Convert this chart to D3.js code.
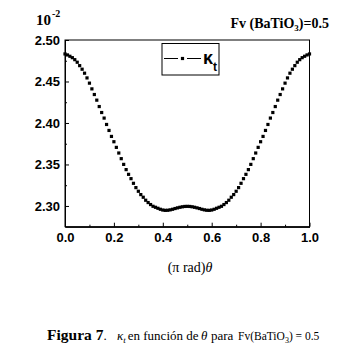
<!DOCTYPE html>
<html>
<head>
<meta charset="utf-8">
<script src="https://cdn.jsdelivr.net/npm/d3@7"></script>
<style>
  body { margin: 0; background: #fff; }
  svg { display: block; }
  .axis text { font-family: "Liberation Sans", Arial, sans-serif; font-weight: bold; font-size: 13px; fill: #000; }
  .axis line, .axis path { stroke: #000; stroke-width: 1px; }
</style>
</head>
<body>
<div id="chart"></div>
<script>
// theta (pi rad) and kappa_t values (x 10^-2)
const theta = d3.range(0, 101).map(i => i / 100)
const kappaT = [
  2.4832, 2.4820, 2.4804, 2.4787, 2.4763, 2.4732, 2.4691, 2.4648, 2.4600, 2.4543,
  2.4480, 2.4411, 2.4343, 2.4275, 2.4198, 2.4126, 2.4059, 2.3982, 2.3910, 2.3838,
  2.3774, 2.3706, 2.3638, 2.3570, 2.3501, 2.3438, 2.3381, 2.3329, 2.3273, 2.3221,
  2.3177, 2.3137, 2.3105, 2.3069, 2.3041, 2.3017, 2.2996, 2.2984, 2.2972, 2.2960,
  2.2951, 2.2947, 2.2948, 2.2953, 2.2960, 2.2969, 2.2977, 2.2984, 2.2990, 2.2994,
  2.2995,
  2.2994, 2.2990, 2.2984, 2.2977, 2.2969, 2.2960, 2.2953, 2.2948, 2.2947, 2.2951,
  2.2960, 2.2972, 2.2984, 2.2996, 2.3017, 2.3041, 2.3069, 2.3105, 2.3137, 2.3177,
  2.3221, 2.3273, 2.3329, 2.3381, 2.3438, 2.3501, 2.3570, 2.3638, 2.3706, 2.3774,
  2.3838, 2.3910, 2.3982, 2.4059, 2.4126, 2.4198, 2.4275, 2.4343, 2.4411, 2.4480,
  2.4543, 2.4600, 2.4648, 2.4691, 2.4732, 2.4763, 2.4787, 2.4804, 2.4820, 2.4832
]
const xTicks = [0, 0.2, 0.4, 0.6, 0.8, 1.0]
const xMinor = [0.1, 0.3, 0.5, 0.7, 0.9]
const yTicks = [2.30, 2.35, 2.40, 2.45, 2.50]
const yMinor = [2.325, 2.375, 2.425, 2.475]

const W = 345, H = 350
const PLOT = { LEFT: 65, RIGHT: 309.5, TOP: 40, BOTTOM: 226.7 }

const svg = d3.select("#chart").append("svg")
  .attr("width", W)
  .attr("height", H)

const x = d3.scaleLinear().domain([0, 1]).range([PLOT.LEFT, PLOT.RIGHT])
const y = d3.scaleLinear().domain([2.275, 2.50]).range([PLOT.BOTTOM, PLOT.TOP])

// frame
svg.append("rect")
  .attr("x", PLOT.LEFT)
  .attr("y", PLOT.TOP)
  .attr("width", PLOT.RIGHT - PLOT.LEFT)
  .attr("height", PLOT.BOTTOM - PLOT.TOP)
  .attr("fill", "none")
  .attr("stroke", "#000")

// x axis, ticks pointing inward
svg.append("g")
  .attr("class", "axis")
  .attr("transform", `translate(0, ${PLOT.BOTTOM})`)
  .call(d3.axisBottom(x).tickValues(xTicks).tickFormat(d3.format(".1f"))
    .tickSizeInner(-4).tickSizeOuter(0).tickPadding(6))
svg.append("g")
  .attr("class", "axis")
  .attr("transform", `translate(0, ${PLOT.BOTTOM})`)
  .call(d3.axisBottom(x).tickValues(xMinor).tickFormat("")
    .tickSizeInner(-2).tickSizeOuter(0))

// y axis
svg.append("g")
  .attr("class", "axis")
  .attr("transform", `translate(${PLOT.LEFT}, 0)`)
  .call(d3.axisLeft(y).tickValues(yTicks).tickFormat(d3.format(".2f"))
    .tickSizeInner(-4).tickSizeOuter(0).tickPadding(5))
svg.append("g")
  .attr("class", "axis")
  .attr("transform", `translate(${PLOT.LEFT}, 0)`)
  .call(d3.axisLeft(y).tickValues(yMinor).tickFormat("")
    .tickSizeInner(-2).tickSizeOuter(0))
svg.selectAll(".axis .domain").attr("stroke", "none")

// data points
const S = 3.2
svg.append("g").selectAll("rect")
  .data(theta.map((t, i) => ({ t, k: kappaT[i] })))
  .enter().append("rect")
  .attr("x", d => x(d.t) - S / 2)
  .attr("y", d => y(d.k) - S / 2)
  .attr("width", S)
  .attr("height", S)
  .attr("fill", "#000")

// 10^-2 multiplier
const mult = svg.append("text")
  .attr("x", 36).attr("y", 25)
  .attr("font-family", "Liberation Serif, Times New Roman, serif")
  .attr("font-weight", "bold")
  .attr("font-size", "15px")
mult.append("tspan").text("10")
mult.append("tspan").attr("font-size", "10px").attr("dy", -8).attr("dx", 1).text("-2")

// Fv label
const fv = svg.append("text")
  .attr("x", 329).attr("y", 28)
  .attr("text-anchor", "end")
  .attr("font-family", "Liberation Serif, Times New Roman, serif")
  .attr("font-weight", "bold")
  .attr("font-size", "14px")
fv.append("tspan").text("Fv (BaTiO")
fv.append("tspan").attr("font-size", "9px").attr("dy", 3).text("3")
fv.append("tspan").attr("dy", -3).text(")=0.5")

// legend
const lg = svg.append("g")
lg.append("rect")
  .attr("x", 162).attr("y", 43.5)
  .attr("width", 57).attr("height", 31.5)
  .attr("fill", "#fff").attr("stroke", "#000")
lg.append("line").attr("x1", 164).attr("x2", 178).attr("y1", 58.5).attr("y2", 58.5).attr("stroke", "#000")
lg.append("line").attr("x1", 187).attr("x2", 201).attr("y1", 58.5).attr("y2", 58.5).attr("stroke", "#000")
lg.append("rect").attr("x", 182.5 - S / 2).attr("y", 58.5 - S / 2).attr("width", S).attr("height", S).attr("fill", "#000")
const lk = lg.append("text")
  .attr("x", 203).attr("y", 64)
  .attr("font-family", "Liberation Sans, Arial, sans-serif")
  .attr("font-weight", "bold")
  .attr("font-size", "18px")
lk.append("tspan").text("κ")
lk.append("tspan").attr("font-size", "12px").attr("dy", 7).text("t")

// x axis title
const xt = svg.append("text")
  .attr("x", 190).attr("y", 272)
  .attr("text-anchor", "middle")
  .attr("font-family", "Liberation Serif, Times New Roman, serif")
  .attr("font-size", "14px")
xt.append("tspan").text("(π rad)")
xt.append("tspan").attr("font-style", "italic").text("θ")

// caption
const cap = svg.append("text")
  .attr("y", 340)
  .attr("font-family", "Liberation Serif, Times New Roman, serif")
  .attr("font-size", "13px")
cap.append("tspan").attr("x", 47).attr("font-weight", "bold").attr("font-size", "15.5px").text("Figura 7")
cap.append("tspan").attr("font-size", "13px").text(".")
cap.append("tspan").attr("x", 117).attr("font-style", "italic").text("κ")
cap.append("tspan").attr("font-style", "italic").attr("font-size", "9px").attr("dy", 3).text("t")
cap.append("tspan").attr("dy", -3).attr("dx", 2).text("en función de")
cap.append("tspan").attr("x", 201).attr("font-style", "italic").text("θ")
cap.append("tspan").attr("x", 211).text("para")
cap.append("tspan").attr("x", 238).attr("font-size", "11.5px").text("Fv(BaTiO")
cap.append("tspan").attr("font-size", "8px").attr("dy", 3).text("3")
cap.append("tspan").attr("font-size", "11.5px").attr("dy", -3).text(") = 0.5")
</script>
</body>
</html>
